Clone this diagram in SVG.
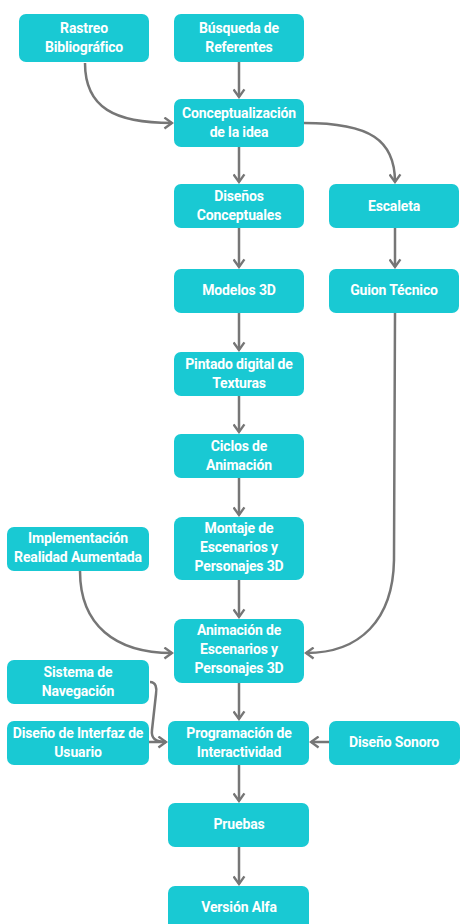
<svg xmlns="http://www.w3.org/2000/svg" width="461" height="924" viewBox="0 0 461 924">
<defs>
<style>
.n{fill:#19C9D3}
.t{font-family:Roboto,"Liberation Sans",sans-serif;font-weight:700;font-size:14px;fill:#ffffff;text-anchor:middle;letter-spacing:-0.15px}
.c{fill:none;stroke:#767676;stroke-width:2.5}
</style>
<marker id="a" viewBox="0 0 12 12" refX="10" refY="6" markerWidth="13" markerHeight="13" markerUnits="userSpaceOnUse" orient="auto">
<path d="M3,1 L10,6 L3,11" fill="none" stroke="#767676" stroke-width="2.2"/>
</marker>
</defs>
<rect width="461" height="924" fill="#ffffff"/>
<g id="connectors">
<path class="c" marker-end="url(#a)" d="M85,63 C85,108 115,123 172,123"/>
<path class="c" marker-end="url(#a)" d="M239,62 L239,97"/>
<path class="c" marker-end="url(#a)" d="M304,123 C370,123 395,140 395,182"/>
<path class="c" marker-end="url(#a)" d="M239,147 L239,182"/>
<path class="c" marker-end="url(#a)" d="M239,228 L239,267"/>
<path class="c" marker-end="url(#a)" d="M395,228 L395,267"/>
<path class="c" marker-end="url(#a)" d="M239,313 L239,350"/>
<path class="c" marker-end="url(#a)" d="M239,396 L239,432"/>
<path class="c" marker-end="url(#a)" d="M239,478 L239,515"/>
<path class="c" marker-end="url(#a)" d="M239,580 L239,617"/>
<path class="c" marker-end="url(#a)" d="M395,313 L394,560 C393,620 360,653 306,653"/>
<path class="c" marker-end="url(#a)" d="M80,571 C80,625 115,653 172,653"/>
<path class="c" marker-end="url(#a)" d="M239,683 L239,719"/>
<path class="c" marker-end="url(#a)" d="M150,682 C156,682 157,688 156,694 L152,730 C151,738 155,742 166,742"/>
<path class="c" d="M149,742 L166,742"/>
<path class="c" marker-end="url(#a)" d="M329,742 L311,742"/>
<path class="c" marker-end="url(#a)" d="M239,765 L239,801"/>
<path class="c" marker-end="url(#a)" d="M239,847 L239,884"/>
</g>
<g id="n1"><rect class="n" x="19" y="14" width="130" height="48" rx="7"/><text class="t" x="84" y="33">Rastreo</text><text class="t" x="84" y="52">Bibliográfico</text></g>
<g id="n2"><rect class="n" x="174" y="14" width="130" height="48" rx="7"/><text class="t" x="239" y="33">Búsqueda de</text><text class="t" x="239" y="52">Referentes</text></g>
<g id="n3"><rect class="n" x="174" y="99" width="130" height="48" rx="7"/><text class="t" x="239" y="118">Conceptualización</text><text class="t" x="239" y="137">de la idea</text></g>
<g id="n4"><rect class="n" x="174" y="184" width="130" height="44" rx="7"/><text class="t" x="239" y="201">Diseños</text><text class="t" x="239" y="220">Conceptuales</text></g>
<g id="n5"><rect class="n" x="329" y="184" width="130" height="44" rx="7"/><text class="t" x="394" y="211">Escaleta</text></g>
<g id="n6"><rect class="n" x="174" y="269" width="130" height="44" rx="7"/><text class="t" x="239" y="295">Modelos 3D</text></g>
<g id="n7"><rect class="n" x="329" y="269" width="130" height="44" rx="7"/><text class="t" x="394" y="295">Guion Técnico</text></g>
<g id="n8"><rect class="n" x="174" y="352" width="130" height="44" rx="7"/><text class="t" x="239" y="369">Pintado digital de</text><text class="t" x="239" y="388">Texturas</text></g>
<g id="n9"><rect class="n" x="174" y="434" width="130" height="44" rx="7"/><text class="t" x="239" y="451">Ciclos de</text><text class="t" x="239" y="470">Animación</text></g>
<g id="n10"><rect class="n" x="174" y="517" width="130" height="63" rx="8"/><text class="t" x="239" y="533">Montaje de</text><text class="t" x="239" y="552">Escenarios y</text><text class="t" x="239" y="571">Personajes 3D</text></g>
<g id="n11"><rect class="n" x="7" y="527" width="142" height="44" rx="7"/><text class="t" x="78" y="543">Implementación</text><text class="t" x="78" y="562">Realidad Aumentada</text></g>
<g id="n12"><rect class="n" x="174" y="619" width="130" height="64" rx="8"/><text class="t" x="239" y="635">Animación de</text><text class="t" x="239" y="654">Escenarios y</text><text class="t" x="239" y="673">Personajes 3D</text></g>
<g id="n13"><rect class="n" x="7" y="660" width="142" height="44" rx="7"/><text class="t" x="78" y="677">Sistema de</text><text class="t" x="78" y="696">Navegación</text></g>
<g id="n14"><rect class="n" x="7" y="721" width="142" height="44" rx="7"/><text class="t" x="78" y="738">Diseño de Interfaz de</text><text class="t" x="78" y="757">Usuario</text></g>
<g id="n15"><rect class="n" x="168" y="721" width="141" height="44" rx="7"/><text class="t" x="239" y="738">Programación de</text><text class="t" x="239" y="757">Interactividad</text></g>
<g id="n16"><rect class="n" x="329" y="721" width="131" height="44" rx="7"/><text class="t" x="394" y="747">Diseño Sonoro</text></g>
<g id="n17"><rect class="n" x="168" y="803" width="141" height="44" rx="7"/><text class="t" x="239" y="829">Pruebas</text></g>
<g id="n18"><rect class="n" x="168" y="886" width="141" height="44" rx="7"/><text class="t" x="239" y="912">Versión Alfa</text></g>
</svg>
